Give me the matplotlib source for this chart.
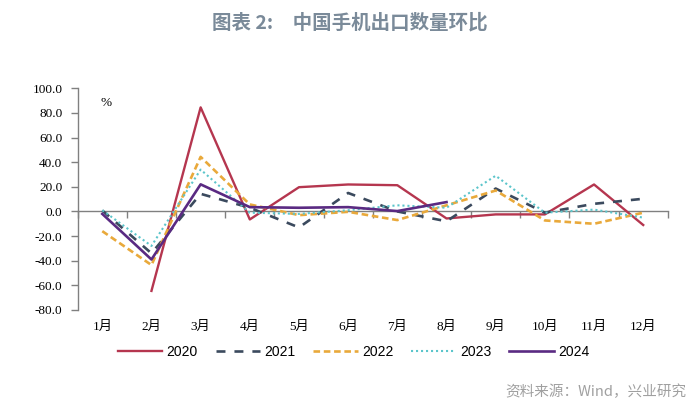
import numpy as np
import matplotlib
matplotlib.use("Agg")
import matplotlib.pyplot as plt

months = ["1月", "2月", "3月", "4月", "5月", "6月", "7月", "8月", "9月", "10月", "11月", "12月"]
nan = np.nan
y2020 = [nan, -64.5, 84.5, -6.5, 19.7, 21.9, 21.3, -5.7, -2.4, -2.4, 21.9, -11.0]
y2021 = [0.8, -34.0, 14.3, 3.0, -13.0, 15.0, 0.0, -8.0, 18.6, -1.0, 6.2, 10.3]
y2022 = [-16.0, -43.5, 44.3, 5.7, -3.0, -0.3, -7.0, 5.0, 17.0, -7.3, -10.0, -1.0]
y2023 = [1.0, -28.0, 34.0, -1.0, -2.0, 1.0, 5.0, 3.0, 29.0, -1.0, 1.5, -5.0]
y2024 = [-2.0, -39.0, 22.0, 3.5, 3.0, 3.5, 0.3, 7.6, nan, nan, nan, nan]
yticks = [100, 80, 60, 40, 20, 0, -20, -40, -60, -80]

fig = plt.figure(figsize=(7.0, 4.18), dpi=100)
ax = fig.add_axes([0.111, 0.2584, 0.843, 0.5304])

x = np.arange(len(months))
series = [
    ("2020", y2020, dict(color="#B5364F", lw=1.7, ls="-")),
    ("2021", y2021, dict(color="#3B4A5E", lw=1.9, ls=(0, (3.4, 3.4)))),
    ("2022", y2022, dict(color="#E9A93B", lw=1.9, ls=(0, (2.5, 1.4)))),
    ("2023", y2023, dict(color="#5CC5CB", lw=1.5, ls=(0, (1.0, 1.4)))),
    ("2024", y2024, dict(color="#5A2A82", lw=1.9, ls="-")),
]
handles = []
for name, vals, st in series:
    ln, = ax.plot(x, vals, label=name, **st)
    handles.append(ln)

ax.set_xlim(-0.5, len(months) - 0.5)
ax.set_ylim(-80, 100)
ax.set_yticks(yticks)
ax.set_yticklabels([f"{v:.1f}" for v in yticks], family="Liberation Serif", fontsize=9.5)
for s in ["top", "right", "bottom"]:
    ax.spines[s].set_visible(False)
ax.spines["left"].set_color("#808080")
ax.spines["left"].set_linewidth(1.0)
ax.tick_params(axis="y", direction="out", length=5, width=1.0, color="#808080", pad=6)

ax.set_xticks(x)
ax.set_xticklabels(months, family=["Liberation Serif", "Noto Sans CJK SC"], fontsize=9.5)
ax.tick_params(axis="x", length=0, pad=8)

zero_pos = (0 - (-80)) / 180.0
sec = ax.secondary_xaxis(zero_pos)
sec.set_xticks(np.arange(-0.5, len(months), 1.0))
sec.set_xticklabels([])
sec.spines["bottom"].set_color("#808080")
sec.spines["bottom"].set_linewidth(1.0)
sec.tick_params(axis="x", direction="out", length=5, width=1.0, color="#808080")

ax.text(0.038, 0.92, "%", transform=ax.transAxes, family="Liberation Serif", fontsize=9.5)

fig.legend(handles=handles, loc="center", bbox_to_anchor=(0.505, 0.158), ncol=5,
           frameon=False, prop={"family": "Liberation Sans", "size": 10},
           handlelength=3.2, handletextpad=0.3, columnspacing=1.3)

fig.text(0.5, 0.947, "图表 2:　中国手机出口数量环比", ha="center", va="center",
         family=["Noto Sans CJK SC", "DejaVu Sans"], fontsize=14, fontweight="bold", color="#7A8A99")
fig.text(0.981, 0.062, "资料来源：Wind，兴业研究", ha="right", va="center",
         family=["Noto Sans CJK SC", "DejaVu Sans"], fontsize=10.5, color="#A0A0A0")

fig.savefig("out.png", dpi=100)
